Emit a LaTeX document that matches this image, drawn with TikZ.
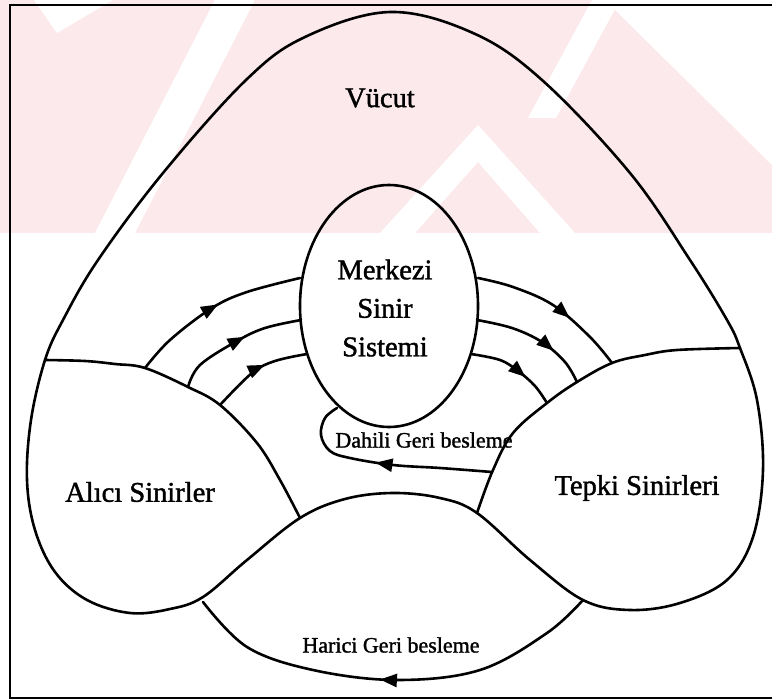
\documentclass[tikz,border=0pt]{standalone}
\usepackage{fontspec}
\setmainfont[FakeBold=1.4]{Liberation Serif}
\usetikzlibrary{arrows.meta,decorations.markings,shapes.geometric}
\definecolor{wm}{RGB}{252,233,236}
\tikzset{
  ln/.style={line width=2.6pt, line join=round, line cap=round},
  midarrow/.style={postaction={decorate,decoration={markings,
      mark=at position #1 with {\arrow{Triangle[length=17pt,width=13pt]}}}}},
  big/.style={font=\fontsize{28.5}{38.5}\selectfont, align=center, inner sep=0pt},
  small/.style={font=\fontsize{22}{26}\selectfont, inner sep=0pt},
}
\begin{document}
\begin{tikzpicture}[x=1pt,y=-1pt]
\useasboundingbox (0,0) rectangle (772,699);
% watermark background
\fill[wm] (0,0) rectangle (772,233);
\fill[white] (34,0) -- (113,0) -- (57,33) -- cycle;
\fill[white] (95,233) -- (135,233) -- (255,0) -- (215,0) -- cycle;
\fill[white] (478,125) -- (575,233) -- (540,233) -- (478,162) -- (415,233) -- (380,233) -- cycle;
\fill[white] (605,0) -- (772,0) -- (772,165) -- cycle;
\fill[white] (528,118) -- (556,118) -- (620,0) -- (592,0) -- cycle;
% frame
\draw[line width=2.4pt] (10,699) -- (10,5) -- (790,5);
\draw[line width=2.4pt] (10,698) -- (790,698);

% big outline (body + lobes + bump)
\draw[ln] plot[smooth cycle, tension=0.6] coordinates {
  (130,613) (87,600) (55,572) (35,530) (27,480) (31,420) (45,360) (63,320)
  (98,260) (163,173) (246,80) (305,37) (390,12) (473,33) (542,80) (630,173)
  (690,260) (727,320) (740,348) (757,400) (763,470) (753,537) (727,580)
  (680,603) (630,610) (583,600) (530,560) (477,513) (440,498) (393,493)
  (345,499) (300,518) (247,560) (203,597) (170,609)};

% lobe dividers
\coordinate (lc) at (45,360);
\coordinate (lb) at (300,518);
\coordinate (rc) at (740,348);
\coordinate (rb) at (477,513);
\draw[ln] plot[smooth, tension=0.6] coordinates {
  (lc) (85,361) (115,364) (145,368) (188,387) (220,405) (257,443) (280,480) (lb)};
\draw[ln] plot[smooth, tension=0.6] coordinates {
  (rc) (677,350) (645,355) (612,363) (577,382) (547,403) (513,433) (493,470) (rb)};

% central nervous system
\node[ln, draw, ellipse, minimum width=178pt, minimum height=242pt, inner sep=0pt]
  (mss) at (389,306) {};
\node[big] (mtext) at (385,308) {Merkezi\\Sinir\\Sistemi};

% afferent arcs (left)
\draw[ln, midarrow=0.53] plot[smooth, tension=0.6] coordinates {
  (145,368) (170,340) (212,308) (247,292) (300,278)};
\draw[ln, midarrow=0.57] plot[smooth, tension=0.6] coordinates {
  (188,387) (200,365) (237,341) (265,328) (301,320)};
\draw[ln, midarrow=0.58] plot[smooth, tension=0.6] coordinates {
  (220,405) (252,373) (275,361) (307,354)};

% efferent arcs (right)
\draw[ln, midarrow=0.62] plot[smooth, tension=0.6] coordinates {
  (478,278) (513,287) (553,305) (590,337) (612,363)};
\draw[ln, midarrow=0.68] plot[smooth, tension=0.6] coordinates {
  (477,320) (512,328) (542,342) (565,362) (577,382)};
\draw[ln, midarrow=0.64] plot[smooth, tension=0.6] coordinates {
  (471,354) (500,360) (518,371) (535,386) (547,403)};

% internal feedback
\draw[ln, midarrow=0.54] plot[smooth, tension=0.6] coordinates {
  (492,472) (440,468) (393,465) (350,458) (330,451) (321,435) (325,418) (337,408)};
\node[small] (dahili) at (424,440) {Dahili Geri besleme};

% external feedback
\draw[ln, midarrow=0.53] plot[smooth, tension=0.6] coordinates {
  (583,600) (547,633) (480,670) (397,680) (313,670) (247,647) (203,602)};
\node[small] (harici) at (391,645) {Harici Geri besleme};

% labels
\node[big] (vucut) at (380,98) {Vücut};
\node[big] (alici) at (140,492) {Alıcı Sinirler};
\node[big] (tepki) at (637,488) {Tepki Sinirleri};
\end{tikzpicture}
\end{document}
